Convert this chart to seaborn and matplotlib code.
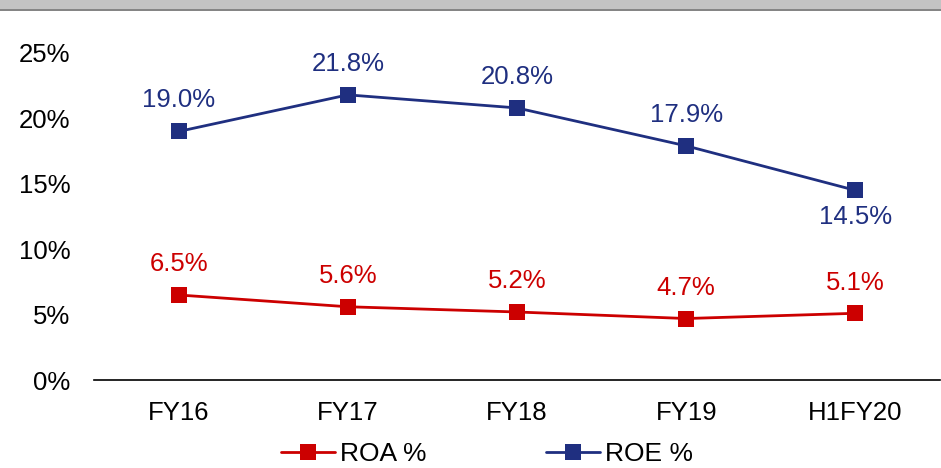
import pandas as pd
import numpy as np
import matplotlib
matplotlib.use('Agg')
import matplotlib.pyplot as plt
from matplotlib.patches import Rectangle
import seaborn as sns

years = ['FY16', 'FY17', 'FY18', 'FY19', 'H1FY20']
roa = [6.5, 5.6, 5.2, 4.7, 5.1]
roe = [19.0, 21.8, 20.8, 17.9, 14.5]
y_ticks = [0, 5, 10, 15, 20, 25]

df = pd.DataFrame({
    'year': years * 2,
    'value': roa + roe,
    'metric': ['ROA %'] * len(years) + ['ROE %'] * len(years),
})

sns.set_style('white')
plt.rcParams['font.family'] = ['Liberation Sans', 'DejaVu Sans']
fs = 18.5

fig = plt.figure(figsize=(9.41, 4.68), dpi=100)
ax = fig.add_axes([94 / 941, 88 / 468, 846 / 941, 327 / 468])

# grey band at the top of the slide
fig.patches.append(Rectangle((0, 458 / 468), 1, 10 / 468, transform=fig.transFigure,
                             facecolor='#c3c3c3', edgecolor='none'))
fig.patches.append(Rectangle((0, 457 / 468), 1, 2.5 / 468, transform=fig.transFigure,
                             facecolor='#858585', edgecolor='none'))

colors = {'ROA %': '#cc0000', 'ROE %': '#1f2f80'}
sns.lineplot(data=df, x='year', y='value', hue='metric', palette=colors, marker='s',
             markersize=11, markeredgewidth=0, linewidth=2, sort=False, ax=ax, legend=False)

# data labels
for i, v in enumerate(roa):
    ax.annotate(f'{v:.1f}%', (i, v), xytext=(0, 22), textcoords='offset points',
                ha='center', va='center', fontsize=fs, color='#cc0000')
for i, v in enumerate(roe):
    off = -19 if i == len(roe) - 1 else 22.5
    ax.annotate(f'{v:.1f}%', (i, v), xytext=(0, off), textcoords='offset points',
                ha='center', va='center', fontsize=fs, color='#1f2f80')

ax.set_xlim(-0.5, len(years) - 0.5)
ax.set_ylim(0, 25)
ax.set_yticks(y_ticks)
ax.set_yticklabels([f'{t}%' for t in y_ticks])
ax.set_xlabel('')
ax.set_ylabel('')
ax.tick_params(axis='both', labelsize=fs, length=0, colors='black')
ax.tick_params(axis='x', pad=15)
ax.tick_params(axis='y', pad=17)
for s in ['top', 'right', 'left']:
    ax.spines[s].set_visible(False)
ax.spines['bottom'].set_color('black')
ax.spines['bottom'].set_linewidth(1.2)

handles = [plt.Line2D([], [], color=colors[m], marker='s', markersize=11, markeredgewidth=0,
                      linewidth=2) for m in ['ROA %', 'ROE %']]
fig.legend(handles, ['ROA %', 'ROE %'], loc='center', bbox_to_anchor=(487 / 941, 14 / 468),
           ncol=2, frameon=False, fontsize=19, handlelength=2.05, handletextpad=0.2,
           columnspacing=4.5, labelcolor='black', borderpad=0)

fig.savefig('out.png', dpi=100)
